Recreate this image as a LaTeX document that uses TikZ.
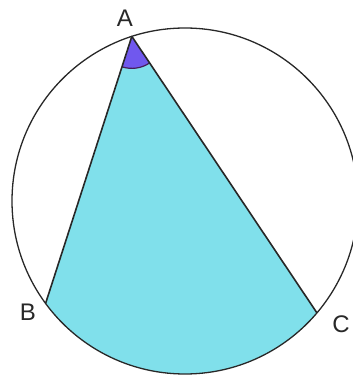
\documentclass[tikz,border=0pt]{standalone}
\usepackage{fontspec}
\setmainfont{Liberation Sans}
\usetikzlibrary{calc,angles}
\definecolor{segfill}{RGB}{128,224,235}
\definecolor{angfill}{RGB}{112,88,238}
\definecolor{angline}{RGB}{70,30,90}
\definecolor{ink}{RGB}{40,40,40}
\tikzset{
  edge/.style={draw=ink, line width=1.6pt, line join=round},
  rim/.style={draw=ink, line width=1.3pt},
  lab/.style={font=\fontsize{24}{28}\selectfont, text=ink, inner sep=0pt}
}
\begin{document}
\begin{tikzpicture}[x=1pt,y=1pt]
\useasboundingbox (0,0) rectangle (353,378);
\coordinate (O) at (185,177);
\coordinate (A) at ($(O)+(107.9:173)$);
\coordinate (B) at ($(O)+(216.3:173)$);
\coordinate (C) at ($(O)+(319.7:173)$);
\fill[segfill] (A) -- (B) arc[start angle=216.3, end angle=319.7, radius=173] -- cycle;
\draw[rim] (O) circle[radius=173];
\pic[fill=angfill, draw=angline, line width=1.2pt, angle radius=32] {angle = B--A--C};
\draw[edge] (B) -- (A) -- (C);
\node[lab] (la) at (125,360) {A};
\node[lab] (lb) at (28,66) {B};
\node[lab] (lc) at (341,54) {C};
\end{tikzpicture}
\end{document}
